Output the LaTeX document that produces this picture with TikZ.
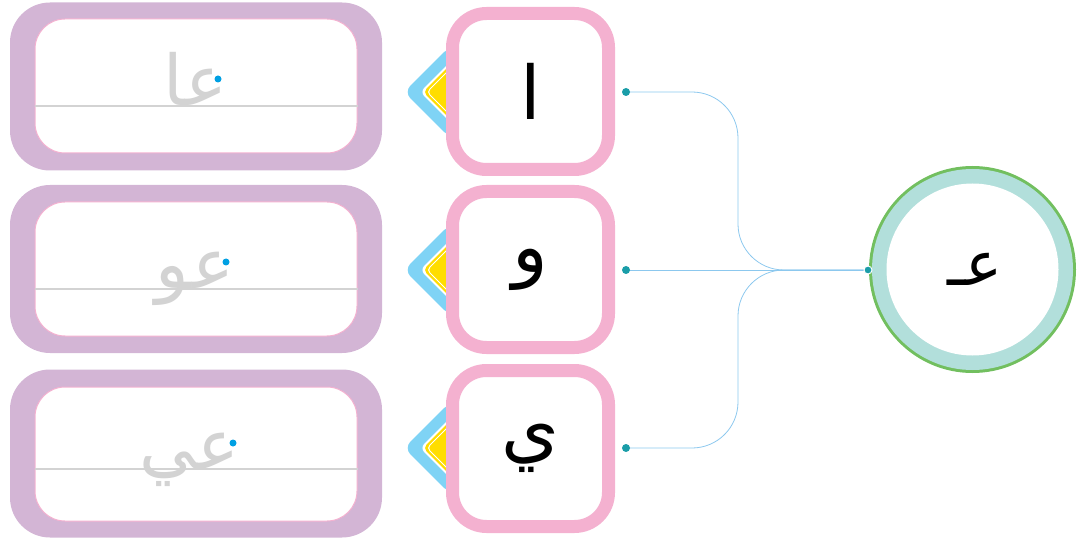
\documentclass[tikz,border=0pt]{standalone}
\usepackage{fontspec}
\newfontfamily\arabicfont[Script=Arabic]{DejaVu Sans}
\TeXXeTstate=1
\usetikzlibrary{backgrounds}
\definecolor{pinkc}{HTML}{F4B1D0}
\definecolor{purplec}{HTML}{D3B5D5}
\definecolor{bluec}{HTML}{7FD3F5}
\definecolor{yellowc}{HTML}{FFDD00}
\definecolor{grayc}{HTML}{D3D3D3}
\definecolor{dotblue}{HTML}{00A0E3}
\definecolor{tealdot}{HTML}{1A9DA8}
\definecolor{linec}{HTML}{8CC8EE}
\definecolor{greenc}{HTML}{72BF5F}
\definecolor{ringc}{HTML}{B2DFDB}
\tikzset{
  purplebox/.style={rectangle, fill=purplec, minimum width=372pt, minimum height=168pt, rounded corners=40pt, inner sep=0pt},
  writebox/.style={rectangle, fill=white, draw=pinkc, line width=1pt, minimum width=322pt, minimum height=134pt, rounded corners=30pt, inner sep=0pt},
  letterbox/.style={rectangle, fill=white, draw=pinkc, line width=13pt, minimum width=156pt, minimum height=156pt, rounded corners=34pt, inner sep=0pt, font=\arabicfont\fontsize{74}{74}\selectfont, text=black},
  tracetext/.style={anchor=base east, inner sep=0pt, text=grayc, font=\arabicfont\fontsize{70}{70}\selectfont},
  guideline/.style={draw=grayc, line width=1.5pt},
  startdot/.style={circle, fill=dotblue, inner sep=0pt, minimum size=7pt},
  condot/.style={circle, fill=tealdot, inner sep=0pt, minimum size=8pt},
  conn/.style={draw=linec, line width=0.8pt, rounded corners=46pt},
}
\newcommand{\diamondtag}[1]{%
  \fill[bluec, rounded corners=9pt] (#1)+(-46,0) -- +(0,-46) -- +(46,0) -- +(0,46) -- cycle;
  \fill[white, rounded corners=6pt] (#1)+(-30,0) -- +(0,-30) -- +(30,0) -- +(0,30) -- cycle;
  \fill[yellowc, rounded corners=5pt] (#1)+(-27,0) -- +(0,-27) -- +(27,0) -- +(0,27) -- cycle;
  \draw[white, line width=1pt, rounded corners=4pt] (#1)+(-23,0) -- +(0,-23) -- +(23,0) -- +(0,23) -- cycle;
}
\begin{document}
\begin{tikzpicture}[x=1pt,y=-1pt]
\useasboundingbox (0,0) rectangle (1077,540);

% left writing boxes
\node[purplebox] (pb1) at (196,86.5) {};
\node[purplebox] (pb2) at (196,269) {};
\node[purplebox] (pb3) at (196,453.5) {};
\node[writebox] (wb1) at (196,86) {};
\node[writebox] (wb2) at (196,269) {};
\node[writebox] (wb3) at (196,454) {};
\draw[guideline] (wb1.west |- 0,106) -- (wb1.east |- 0,106);
\draw[guideline] (wb2.west |- 0,289) -- (wb2.east |- 0,289);
\draw[guideline] (wb3.west |- 0,469) -- (wb3.east |- 0,469);
\node[tracetext] (t1) at (227,106) {\beginR عا\endR};
\node[tracetext] (t2) at (234,289) {\beginR عو\endR};
\node[tracetext] (t3) at (240,469) {\beginR عي\endR};
\node[startdot] (s1) at (218,79) {};
\node[startdot] (s2) at (226,262) {};
\node[startdot] (s3) at (233,443) {};

% tags behind letter boxes
\coordinate (g1) at (450,92);
\coordinate (g2) at (450,270);
\coordinate (g3) at (450,448);
\diamondtag{g1}
\diamondtag{g2}
\diamondtag{g3}

% letter boxes
\node[letterbox] (l1) at (530.5,91.5) {\beginR ا\endR};
\node[letterbox] (l2) at (530.5,269.5) {\beginR و\endR};
\node[letterbox] (l3) at (530.5,448.5) {\beginR ي\endR};

% circle
\fill[greenc] (972.5,269.5) circle[radius=103.5pt];
\fill[ringc] (972.5,269.5) circle[radius=100.5pt];
\node[circle, fill=white, minimum size=172pt, inner sep=0pt] (c) at (972.5,269.5) {};
\node[inner sep=0pt, font=\arabicfont\fontsize{62}{62}\selectfont] (ct) at (975,269.5) {\beginR عـ\endR};

% connector dots
\node[condot] (d1) at (626,92) {};
\node[condot] (d2) at (626,270) {};
\node[condot] (d3) at (626,448) {};
\node[condot, draw=white, line width=1pt] (dc) at (868,270) {};
\coordinate (vx) at (738,0);

\begin{scope}[on background layer]
\draw[conn] (d1.center) -- (d1 -| vx) -- (vx |- dc) -- (dc.center);
\draw[conn] (d3.center) -- (d3 -| vx) -- (vx |- dc) -- (dc.center);
\draw[conn] (d2.center) -- (dc.center);
\end{scope}
\end{tikzpicture}
\end{document}
